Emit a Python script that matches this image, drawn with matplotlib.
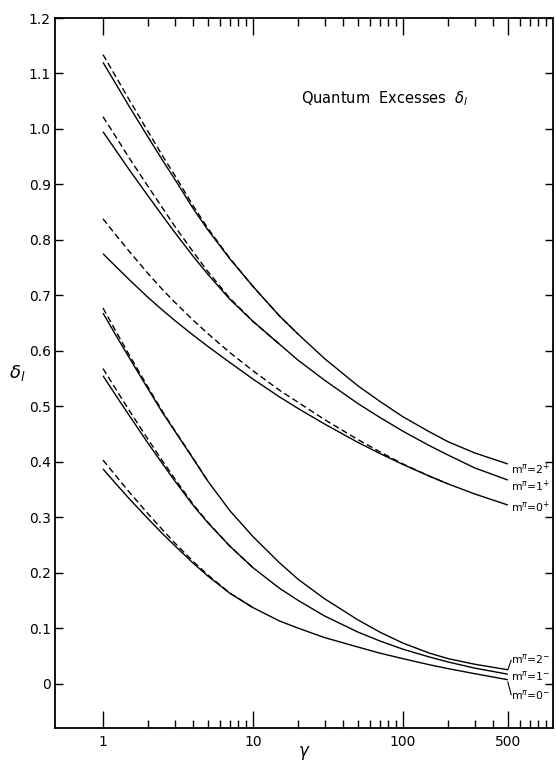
import matplotlib
matplotlib.use("Agg")
import matplotlib.pyplot as plt
from matplotlib.ticker import FixedLocator, FixedFormatter, NullFormatter

# ---------------- data ----------------
gamma = [1, 1.25, 1.5, 2, 2.5, 3, 4, 5, 7, 10, 15, 20, 30, 50, 70, 100, 150, 200, 300, 500]

solid_2p = [1.120, 1.076, 1.040, 0.985, 0.943, 0.910, 0.856, 0.818, 0.766, 0.716,
            0.663, 0.630, 0.586, 0.537, 0.509, 0.481, 0.454, 0.436, 0.416, 0.396]
solid_1p = [0.995, 0.957, 0.926, 0.879, 0.843, 0.814, 0.770, 0.738, 0.693, 0.653,
            0.612, 0.583, 0.547, 0.505, 0.480, 0.455, 0.429, 0.412, 0.389, 0.367]
solid_0p = [0.775, 0.749, 0.728, 0.696, 0.673, 0.655, 0.628, 0.608, 0.579, 0.549,
            0.517, 0.496, 0.468, 0.435, 0.415, 0.395, 0.374, 0.360, 0.342, 0.322]
solid_2m = [0.668, 0.623, 0.587, 0.531, 0.488, 0.456, 0.405, 0.365, 0.312, 0.265,
            0.218, 0.188, 0.153, 0.115, 0.093, 0.073, 0.055, 0.045, 0.035, 0.025]
solid_1m = [0.555, 0.515, 0.483, 0.433, 0.396, 0.366, 0.321, 0.290, 0.248, 0.209,
            0.172, 0.150, 0.122, 0.093, 0.077, 0.062, 0.048, 0.039, 0.028, 0.017]
solid_0m = [0.387, 0.357, 0.333, 0.297, 0.270, 0.249, 0.217, 0.194, 0.163, 0.137,
            0.113, 0.100, 0.083, 0.066, 0.055, 0.045, 0.034, 0.027, 0.018, 0.007]

dashed_2p = [1.134, 1.089, 1.052, 0.995, 0.951, 0.917, 0.861, 0.821, 0.767, 0.716, 0.663, 0.630]
dashed_1p = [1.022, 0.981, 0.947, 0.896, 0.857, 0.825, 0.778, 0.743, 0.695, 0.653, 0.612]
dashed_0p = [0.838, 0.805, 0.779, 0.739, 0.710, 0.688, 0.655, 0.631, 0.597, 0.564,
             0.529, 0.507, 0.476, 0.440, 0.418, 0.396, 0.374, 0.360]
dashed_2m = [0.677, 0.630, 0.592, 0.534, 0.490, 0.457, 0.406, 0.365]
dashed_1m = [0.568, 0.526, 0.492, 0.440, 0.401, 0.370, 0.323, 0.291, 0.248, 0.209]
dashed_0m = [0.403, 0.371, 0.345, 0.306, 0.277, 0.254, 0.220, 0.196, 0.1635, 0.137]

curve_labels = [r"m$^{\pi}$=2$^{+}$", r"m$^{\pi}$=1$^{+}$", r"m$^{\pi}$=0$^{+}$",
                r"m$^{\pi}$=2$^{-}$", r"m$^{\pi}$=1$^{-}$", r"m$^{\pi}$=0$^{-}$"]
label_y = [0.386, 0.355, 0.317, 0.045, 0.013, -0.021]

y_ticks = [0, 0.1, 0.2, 0.3, 0.4, 0.5, 0.6, 0.7, 0.8, 0.9, 1.0, 1.1, 1.2]
y_ticklabels = ["0", "0.1", "0.2", "0.3", "0.4", "0.5", "0.6", "0.7", "0.8", "0.9", "1.0", "1.1", "1.2"]
x_major = [1, 10, 100, 500]
x_major_labels = ["1", "10", "100", "500"]
x_minor = [2, 3, 4, 5, 6, 7, 8, 9, 20, 30, 40, 50, 60, 70, 80, 90,
           200, 300, 400, 600, 700, 800, 900]

# ---------------- figure ----------------
plt.rcParams['font.family'] = ['DejaVu Sans']
plt.rcParams['mathtext.fontset'] = 'dejavusans'

W, H = 556, 763
fig = plt.figure(figsize=(W / 100, H / 100), dpi=100)
L, R, T, B = 55, 553, 18, 728
ax = fig.add_axes([L / W, 1 - B / H, (R - L) / W, (B - T) / H])

ax.set_xscale('log')
ax.set_xlim(10 ** (-48 / 150), 1000)
ax.set_ylim(-0.08, 1.2)

lw = 1.0
dash = (4.5, 2.5)
for ys in [solid_2p, solid_1p, solid_0p, solid_2m, solid_1m, solid_0m]:
    ax.plot(gamma, ys, color='black', lw=lw, solid_capstyle='butt')
for ys in [dashed_2p, dashed_1p, dashed_0p, dashed_2m, dashed_1m, dashed_0m]:
    ax.plot(gamma[:len(ys)], ys, color='black', lw=lw, linestyle=(0, dash))

# curve labels at right
for lab, yy in zip(curve_labels, label_y):
    ax.text(528, yy, lab, fontsize=7.8, ha='left', va='center')
# leader lines for the lower labels
ax.plot([500, 526], [solid_2m[-1], 0.042], color='black', lw=0.8)
ax.plot([500, 526], [solid_0m[-1] - 0.004, -0.020], color='black', lw=0.8)

ax.text(21, 1.054, r"Quantum  Excesses  $\delta_{l}$", fontsize=10.5, ha='left', va='center')

# ticks
ax.xaxis.set_major_locator(FixedLocator(x_major))
ax.xaxis.set_major_formatter(FixedFormatter(x_major_labels))
ax.xaxis.set_minor_locator(FixedLocator(x_minor))
ax.xaxis.set_minor_formatter(NullFormatter())
ax.yaxis.set_major_locator(FixedLocator(y_ticks))
ax.yaxis.set_major_formatter(FixedFormatter(y_ticklabels))

ax.tick_params(axis='x', which='major', direction='in', length=12, width=1.0,
               top=True, bottom=True, labelsize=10, pad=5)
ax.tick_params(axis='x', which='minor', direction='in', length=6, width=1.0,
               top=True, bottom=True)
ax.tick_params(axis='y', which='major', direction='in', length=6, width=1.0,
               left=True, right=True, labelsize=10, pad=3)
for s in ax.spines.values():
    s.set_linewidth(1.3)

ax.set_xlabel(r"$\gamma$", fontsize=12)
ax.xaxis.set_label_coords(0.5, -0.022)
ax.set_ylabel(r"$\delta_{l}$", fontsize=13, rotation=0, va='center', ha='center')
ax.yaxis.set_label_coords(-0.075, 0.5)

fig.savefig("out.png", dpi=100)
